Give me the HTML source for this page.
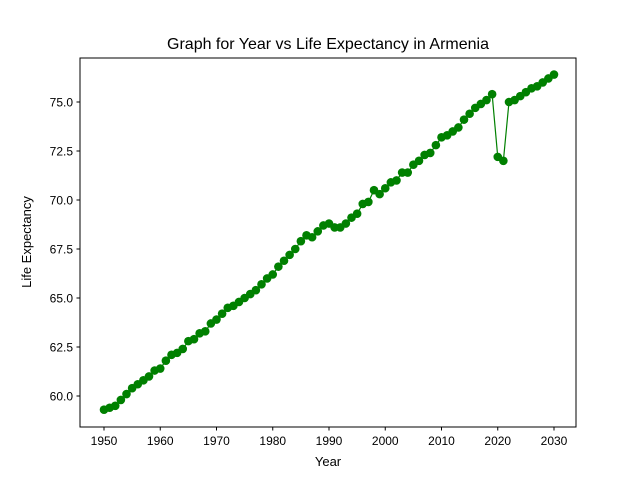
<!DOCTYPE html>
<html><head><meta charset="utf-8"><style>body{margin:0;background:#fff}svg{font-family:"Liberation Sans","DejaVu Sans",sans-serif}</style></head>
<body>
<svg id="chart" width="640" height="480" xmlns="http://www.w3.org/2000/svg">
<rect width="640" height="480" fill="#fff"/>
<text x="328" y="49" text-anchor="middle" font-size="16">Graph for Year vs Life Expectancy in Armenia</text>
<g id="plot"></g>
<rect x="80" y="58" width="496" height="369" fill="none" stroke="#000" stroke-width="1"/>
<text x="328" y="466" text-anchor="middle" font-size="13">Year</text>
<text transform="translate(31,242) rotate(-90)" text-anchor="middle" font-size="13">Life Expectancy</text>
</svg>
<script>
const years = [];
for (let y = 1950; y <= 2030; y++) years.push(y);
const lifeExp = [59.3,59.4,59.5,59.8,60.1,60.4,60.6,60.8,61.0,61.3,61.4,61.8,62.1,62.2,62.4,62.8,62.9,63.2,63.3,63.7,63.9,64.2,64.5,64.6,64.8,65.0,65.2,65.4,65.7,66.0,66.2,66.6,66.9,67.2,67.5,67.9,68.2,68.1,68.4,68.7,68.8,68.6,68.6,68.8,69.1,69.3,69.8,69.9,70.5,70.3,70.6,70.9,71.0,71.4,71.4,71.8,72.0,72.3,72.4,72.8,73.2,73.3,73.5,73.7,74.1,74.4,74.7,74.9,75.1,75.4,72.2,72.0,75.0,75.1,75.3,75.5,75.7,75.8,76.0,76.2,76.4];
const xTicks = [1950,1960,1970,1980,1990,2000,2010,2020,2030];
const yTicks = [60.0,62.5,65.0,67.5,70.0,72.5,75.0];
const NS = "http://www.w3.org/2000/svg";
const xs = v => 104 + (v - 1950) * 5.625;
const ys = v => 396 - (v - 60) * 19.6;
const g = document.getElementById('plot');
function mk(t, a){const e=document.createElementNS(NS,t);for(const k in a)e.setAttribute(k,a[k]);g.appendChild(e);return e;}
xTicks.forEach(t=>{
  const l=mk('line',{x1:xs(t),x2:xs(t),y1:427,y2:430.5,stroke:'#000'});
  
  
  const tx=mk('text',{x:xs(t),y:445,'text-anchor':'middle','font-size':'12'});
  tx.textContent=t;
  
  
});
yTicks.forEach(t=>{
  const l=mk('line',{x1:76.5,x2:80,y1:ys(t),y2:ys(t),stroke:'#000'});
  
  
  const tx=mk('text',{x:73,y:ys(t)+4.5,'text-anchor':'end','font-size':'12'});
  tx.textContent=t.toFixed(1);
  
  
});
const pts = years.map((y,i)=>xs(y)+','+ys(lifeExp[i])).join(' ');
const line = mk('polyline',{points:pts,fill:'none',stroke:'#008000','stroke-width':1.2});


years.forEach((y,i)=>{
  const c=mk('circle',{cx:xs(y),cy:ys(lifeExp[i]),r:4.3,fill:'#008000'});
  
  
});
</script>
</body></html>
